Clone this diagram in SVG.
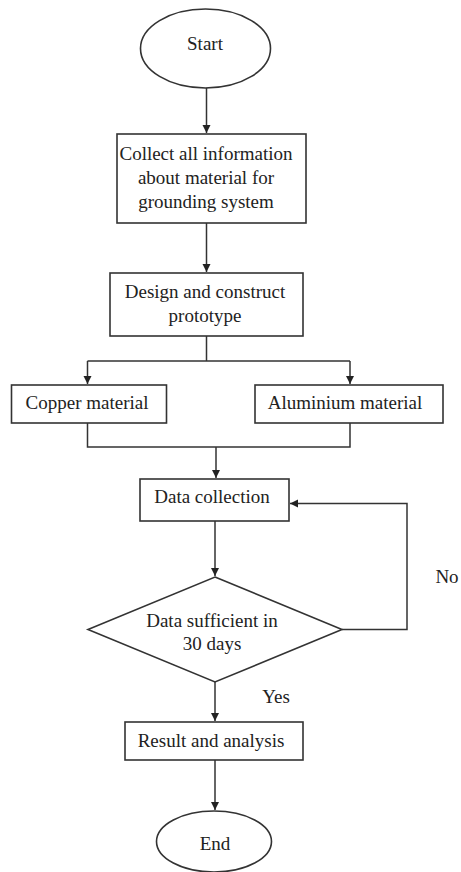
<svg xmlns="http://www.w3.org/2000/svg" width="461" height="872" viewBox="0 0 461 872">
<style>
.s{fill:#fff;stroke:#333;stroke-width:1.6}
.t{font-family:"Liberation Serif","Times New Roman",serif;font-size:19px;fill:#222;text-anchor:middle}
.c{fill:none;stroke:#333;stroke-width:1.5}
</style>
<defs>
<marker id="ah" markerWidth="10" markerHeight="10" refX="8" refY="4" orient="auto" markerUnits="userSpaceOnUse">
<path d="M0,0 L8,4 L0,8 Z" fill="#222"/>
</marker>
</defs>
<rect width="461" height="872" fill="#fff"/>
<g id="connectors">
<path class="c" d="M206.5,88 V133" marker-end="url(#ah)"/>
<path class="c" d="M206.5,223 V272" marker-end="url(#ah)"/>
<path class="c" d="M206.5,336 V361 M87.5,361 H350"/>
<path class="c" d="M87.5,361 V384" marker-end="url(#ah)"/>
<path class="c" d="M350,361 V384" marker-end="url(#ah)"/>
<path class="c" d="M87.5,423 V447 H350 V423"/>
<path class="c" d="M216,447 V478" marker-end="url(#ah)"/>
<path class="c" d="M215,521 V576" marker-end="url(#ah)"/>
<path class="c" d="M342,629.5 H407 V503.5 H290" marker-end="url(#ah)"/>
<path class="c" d="M215,682 V721" marker-end="url(#ah)"/>
<path class="c" d="M215,760 V810" marker-end="url(#ah)"/>
</g>
<g id="start">
<ellipse class="s" cx="205.5" cy="48.5" rx="65" ry="39.5"/>
<text class="t" x="205" y="50">Start</text>
</g>
<g id="collect">
<rect class="s" x="117" y="134" width="189" height="89"/>
<text class="t" x="206" y="160">Collect all information</text>
<text class="t" x="206" y="184">about material for</text>
<text class="t" x="206" y="208">grounding system</text>
</g>
<g id="design">
<rect class="s" x="110" y="273" width="193" height="63"/>
<text class="t" x="205" y="298">Design and construct</text>
<text class="t" x="205" y="322">prototype</text>
</g>
<g id="copper">
<rect class="s" x="11.5" y="385" width="155" height="38"/>
<text class="t" x="87" y="409">Copper material</text>
</g>
<g id="aluminium">
<rect class="s" x="255" y="385" width="188" height="38"/>
<text class="t" x="345" y="409">Aluminium material</text>
</g>
<g id="datacollection">
<rect class="s" x="140" y="479" width="149" height="42"/>
<text class="t" x="212" y="503">Data collection</text>
</g>
<g id="decision">
<polygon class="s" points="215,577 342,629.5 215,682 88,629.5"/>
<text class="t" x="212" y="627">Data sufficient in</text>
<text class="t" x="212" y="650">30 days</text>
</g>
<g id="labels">
<text class="t" x="447" y="583">No</text>
<text class="t" x="276" y="703">Yes</text>
</g>
<g id="result">
<rect class="s" x="125" y="722" width="178" height="38"/>
<text class="t" x="211" y="747">Result and analysis</text>
</g>
<g id="end">
<ellipse class="s" cx="214" cy="841.5" rx="57.5" ry="30.5"/>
<text class="t" x="215" y="850">End</text>
</g>
</svg>
